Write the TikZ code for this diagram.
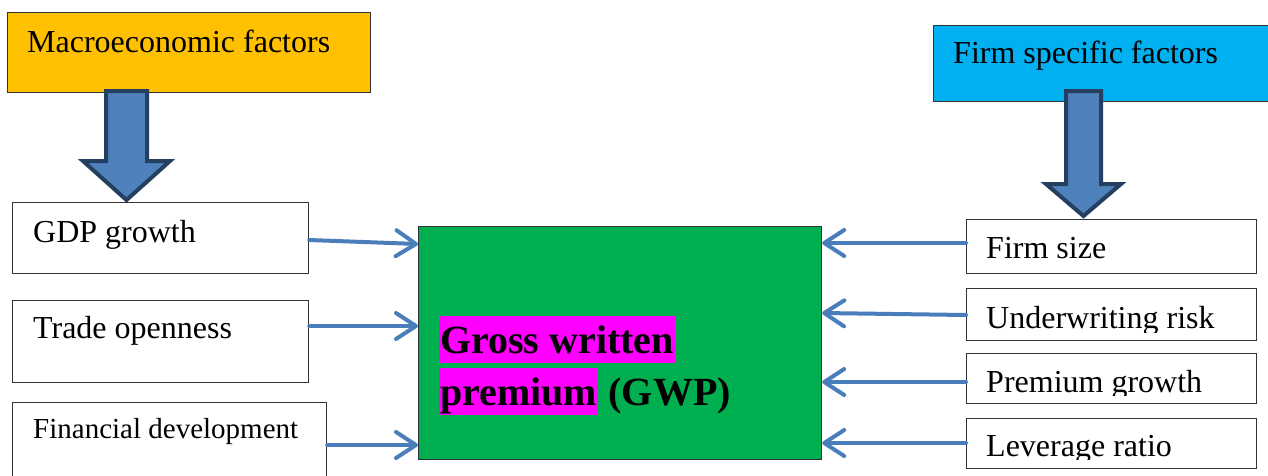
\documentclass[tikz,border=0pt]{standalone}
\usepackage{fontspec}
\setmainfont{Liberation Serif}
\usetikzlibrary{arrows.meta,calc}
\definecolor{macroc}{HTML}{FFC000}
\definecolor{firmc}{HTML}{00B0F0}
\definecolor{gwpc}{HTML}{00B050}
\definecolor{hil}{HTML}{FF00FF}
\definecolor{connc}{HTML}{4A7EBB}
\definecolor{bigfill}{HTML}{4F81BD}
\definecolor{bigline}{HTML}{243F60}
\begin{document}
\begin{tikzpicture}[x=1pt,y=-1pt,
  box/.style={draw=black!80, line width=1.2pt, rectangle, inner sep=0pt, anchor=north west},
  lbl/.style={anchor=base west, inner sep=0pt, font=\fontsize{32}{38}\selectfont},
  conn/.style={draw=connc, line width=4pt, line cap=round, -{Straight Barb[length=20pt,width=26pt,line cap=round,line join=round]}},
  bigarrow/.style={fill=bigfill, draw=bigline, line width=4pt, line join=miter},
  hl/.style={fill=hil, anchor=base west, inner xsep=1pt, inner ysep=0pt, text height=37pt, text depth=10pt, font=\fontsize{40}{48}\selectfont\bfseries}
]
\clip (0,0) rectangle (1268,475);
\fill[white] (0,0) rectangle (1268,475);

% header boxes
\node[box, fill=macroc, minimum width=363pt, minimum height=80pt] (macro) at (7,12) {};
\node[lbl] (macrot) at (27,52) {Macroeconomic factors};
\node[box, fill=firmc, minimum width=340pt, minimum height=76pt] (firm) at (933,25) {};
\node[lbl] (firmt) at (953,63) {Firm specific factors};

% big block arrows
\draw[bigarrow] (106,91) -- (147,91) -- (147,161) -- (170,161) -- (126.5,200) -- (83,161) -- (106,161) -- cycle;
\draw[bigarrow] (1066,91) -- (1101,91) -- (1101,184) -- (1121,184) -- (1083.5,216) -- (1046,184) -- (1066,184) -- cycle;

% left factor boxes
\node[box, minimum width=296pt, minimum height=71pt] (gdp) at (12,202) {};
\node[lbl] (gdpt) at (33,242) {GDP growth};
\node[box, minimum width=296pt, minimum height=82pt] (trade) at (12,300) {};
\node[lbl] (tradet) at (33,338) {Trade openness};
\node[box, minimum width=314pt, minimum height=100pt] (fin) at (12,402) {};
\node[lbl, font=\fontsize{29}{35}\selectfont] (fint) at (33,438) {Financial development};

% central box
\node[box, fill=gwpc, minimum width=403pt, minimum height=233pt] (gwp) at (418,226) {};
\node[hl] (g1) at (439,353) {Gross written};
\node[hl] (g2) at (439,405) {premium};
\node[anchor=base west, inner sep=0pt, font=\fontsize{40}{48}\selectfont\bfseries] (g3) at ($(g2.base east)+(10,0)$) {(GWP)};

% right factor boxes
\node[box, minimum width=290pt, minimum height=54pt] (fsize) at (966,219) {};
\node[lbl] (fsizet) at (986,258) {Firm size};
\node[box, minimum width=290pt, minimum height=52pt] (under) at (966,288) {};
\begin{scope}
  \clip (under.north west) rectangle (1256,332);
  \node[lbl] (undert) at (986,328) {Underwriting risk};
\end{scope}
\node[box, minimum width=290pt, minimum height=50pt] (prem) at (966,353) {};
\begin{scope}
  \clip (prem.north west) rectangle (1256,395);
  \node[lbl] (premt) at (986,392) {Premium growth};
\end{scope}
\node[box, minimum width=290pt, minimum height=50pt] (lev) at (966,418) {};
\begin{scope}
  \clip (lev.north west) rectangle (1256,459);
  \node[lbl] (levt) at (986,456.5) {Leverage ratio};
\end{scope}

% connectors
\draw[conn] (gdp.east |- 0,240) -- (gwp.west |- 0,244);
\draw[conn] (trade.east |- 0,326) -- (gwp.west |- 0,326);
\draw[conn] (fin.east |- 0,445) -- (gwp.west |- 0,445);
\draw[conn] (fsize.west |- 0,243) -- (gwp.east |- 0,243);
\draw[conn] (under.west |- 0,315) -- (gwp.east |- 0,313);
\draw[conn] (prem.west |- 0,382) -- (gwp.east |- 0,382);
\draw[conn] (lev.west |- 0,443) -- (gwp.east |- 0,443);
\end{tikzpicture}
\end{document}
